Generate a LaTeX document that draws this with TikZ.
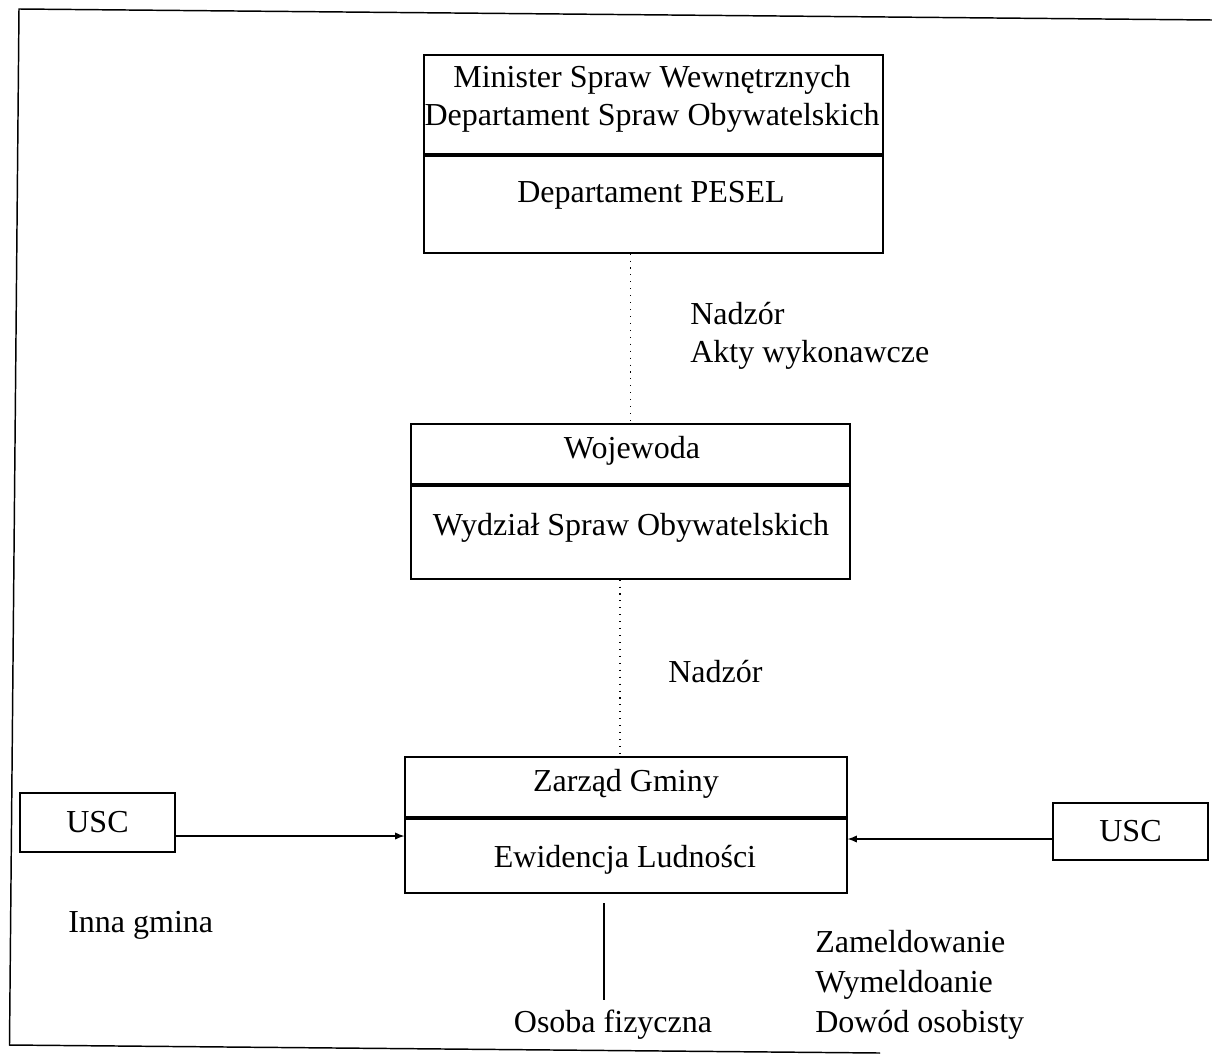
\documentclass[tikz,border=0pt]{standalone}
\usepackage{fontspec}
\setmainfont{Liberation Serif}
\usetikzlibrary{arrows.meta}
\begin{document}
\begin{tikzpicture}[x=0.75pt,y=-0.75pt,
  every node/.style={font=\fontsize{24}{28.5}\selectfont,inner sep=0pt},
  box/.style={draw,line width=0.9pt,inner sep=0pt},
  divider/.style={line width=2.8pt},
  dotline/.style={line width=1.4pt,dash pattern=on 0.8pt off 4.4pt},
  arr/.style={line width=0.9pt,-{Latex[length=7pt,width=5.5pt]}},
  plain/.style={line width=0.9pt},
  lbl/.style={anchor=west,align=left}]
\useasboundingbox (0,0) rectangle (1212,1053);
% frame (slightly skewed scan)
\draw[line width=1.1pt] (1212,20) -- (19,9) -- (9.5,1045) -- (880,1053);
% top box
\node[box,minimum width=344.25pt,minimum height=148.5pt] (min) at (653.5,154) {};
\draw[divider] (min.west |- 0,155) -- (min.east |- 0,155);
\node[align=center] (mintxt) at (652,99) {Minister Spraw Wewnętrznych\\Departament Spraw Obywatelskich};
\node (pesel) at (651,195) {Departament PESEL};
% wojewoda box
\node[box,minimum width=329.25pt,minimum height=116.25pt] (woj) at (630.5,501.5) {};
\draw[divider] (woj.west |- 0,485) -- (woj.east |- 0,485);
\node (wojtxt) at (632,451) {Wojewoda};
\node (wydz) at (631,528) {Wydział Spraw Obywatelskich};
% zarzad box
\node[box,minimum width=331.5pt,minimum height=102pt] (zarz) at (626,825) {};
\draw[divider] (zarz.west |- 0,818) -- (zarz.east |- 0,818);
\node (zarztxt) at (626,784) {Zarząd Gminy};
\node (ewid) at (625,860) {Ewidencja Ludności};
% dotted supervision lines
\draw[dotline] (min.south -| woj.north) -- (woj.north);
\coordinate (d2) at (620,0);
\draw[dotline] (woj.south -| d2) -- (zarz.north -| d2);
\node[lbl] (nadz1) at (690,336) {Nadzór\\Akty wykonawcze};
\node[lbl] (nadz2) at (668,672) {Nadzór};
% USC boxes
\node[box,minimum width=116.25pt,minimum height=44.25pt] (uscL) at (97.5,822.5) {USC};
\node[box,minimum width=116.25pt,minimum height=42.75pt] (uscR) at (1130.5,831.5) {USC};
\draw[arr] (uscL.east |- 0,836) -- (zarz.west |- 0,836);
\draw[arr] (uscR.west |- 0,839) -- (zarz.east |- 0,839);
\node[lbl] (inna) at (68,925) {Inna gmina};
% bottom
\node (osoba) at (613,1025) {Osoba fizyczna};
\coordinate (osT) at (604,903);
\coordinate (osB) at (604,1000);
\draw[plain] (osT) -- (osB);
\node[lbl,font=\fontsize{24}{30}\selectfont] (zam) at (815,985) {Zameldowanie\\Wymeldoanie\\Dowód osobisty};
\end{tikzpicture}
\end{document}
